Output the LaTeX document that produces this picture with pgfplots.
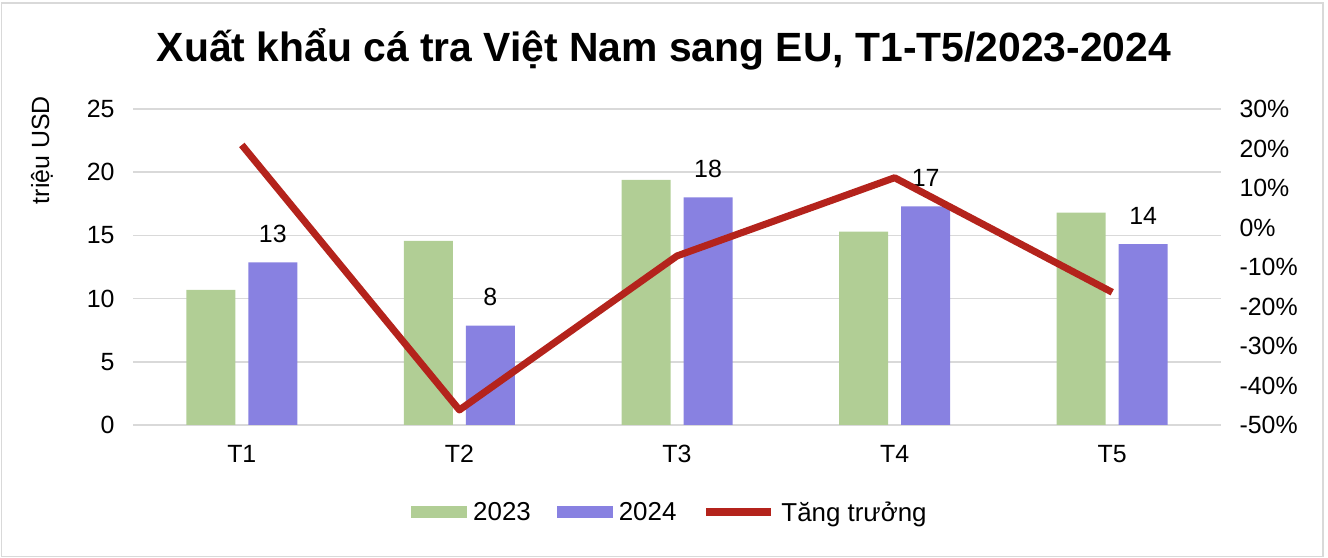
\documentclass[border=0pt]{standalone}
\usepackage{pgfplots}
\pgfplotsset{compat=1.18}
\usepackage{fontspec}
\setmainfont{Liberation Sans}
\definecolor{cgreen}{RGB}{177,206,149}
\definecolor{cpurple}{RGB}{136,129,225}
\definecolor{cred}{RGB}{180,35,28}
\definecolor{gridgray}{RGB}{217,217,217}
\newcommand{\tf}{\fontsize{25}{30}\selectfont}
\pgfplotsset{
  barleg/.style={legend image code/.code={\fill[##1] (0bp,-6bp) rectangle (56bp,6bp);}},
  lineleg/.style={legend image code/.code={\draw[##1] (0bp,0bp) -- (65bp,0bp);}},
}
\begin{document}
\begin{tikzpicture}[x=1bp,y=1bp]
\path (0,0) rectangle (1328,558);
\draw[color=gridgray, line width=1.5bp] (1.5,1.5) rectangle (1323,555);
\node[anchor=base, font=\fontsize{41}{49}\selectfont\bfseries] at (664,496) {Xuất khẩu cá tra Việt Nam sang EU, T1-T5/2023-2024};
\begin{axis}[
  at={(133bp,133bp)}, anchor=south west, scale only axis,
  width=1088bp, height=316bp,
  xmin=-0.5, xmax=4.5, ymin=0, ymax=25,
  xtick={0,1,2,3,4}, xticklabels={T1,T2,T3,T4,T5},
  ytick={0,5,10,15,20,25},
  ymajorgrids, grid style={gridgray, line width=1.5bp},
  axis line style={draw=none}, major tick length=0,
  ybar=13bp, bar width=49bp,
  tick label style={font=\tf},
  /pgf/number format/assume math mode=true,
  yticklabel style={xshift=-15bp},
  xticklabel style={yshift=-17bp},
  ylabel={triệu USD},
  every axis y label/.style={at={(axis description cs:-0.0836,0.87)}, rotate=90, anchor=center, font=\tf},
  legend style={at={(0.4935,-0.276)}, anchor=center, draw=none, fill=none, legend columns=3,
    font=\fontsize{26}{31}\selectfont,
    /tikz/every odd column/.append style={column sep=4bp},
    /tikz/every even column/.append style={column sep=24bp}},
]
\addplot[fill=cgreen, draw=none, barleg]
  coordinates {(0,10.68) (1,14.56) (2,19.4) (3,15.3) (4,16.8)};
\addlegendentry{2023}
\addplot[fill=cpurple, draw=none, barleg,
  nodes near coords={\pgfmathprintnumber[fixed,precision=0]{\pgfplotspointmeta}},
  every node near coord/.append style={font=\tf, text=black, anchor=south, yshift=16bp},
  point meta=y]
  coordinates {(0,12.87) (1,7.86) (2,18.0) (3,17.3) (4,14.3)};
\addlegendentry{2024}
\addlegendimage{cred, line width=8bp, lineleg}
\addlegendentry{Tăng trưởng}
\end{axis}
\begin{axis}[
  at={(133bp,133bp)}, anchor=south west, scale only axis,
  width=1088bp, height=316bp,
  xmin=-0.5, xmax=4.5, ymin=-50, ymax=30,
  xtick=\empty, ytick={-50,-40,-30,-20,-10,0,10,20,30},
  axis y line*=right, axis x line=none,
  axis line style={draw=none}, major tick length=0,
  tick label style={font=\tf},
  /pgf/number format/assume math mode=true,
  yticklabel={\pgfmathprintnumber{\tick}\%},
  yticklabel style={xshift=15bp},
]
\addplot[cred, line width=7bp, line join=round] coordinates {(0,20.9) (1,-46.2) (2,-7.2) (3,12.6) (4,-16.4)};
\end{axis}
\end{tikzpicture}
\end{document}
